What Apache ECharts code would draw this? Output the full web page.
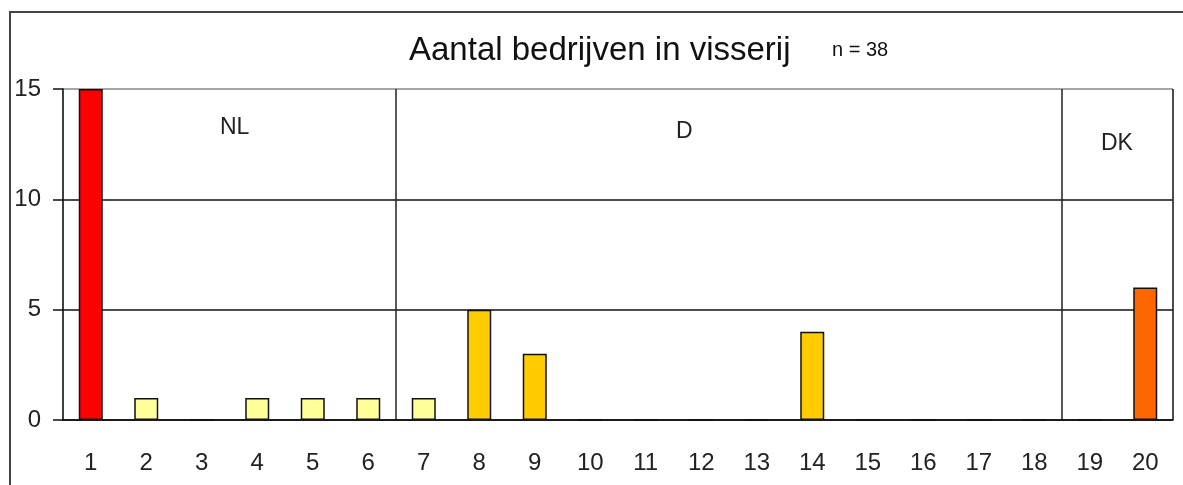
<!DOCTYPE html>
<html>
<head>
<meta charset="utf-8">
<script src="https://cdn.jsdelivr.net/npm/echarts@6/dist/echarts.min.js"></script>
<style>
  html, body { margin: 0; padding: 0; background: #fff; }
  #chart { width: 1183px; height: 485px; }
</style>
</head>
<body>
<div id="chart"></div>
<script>
const categories = ['1', '2', '3', '4', '5', '6', '7', '8', '9', '10', '11', '12', '13', '14', '15', '16', '17', '18', '19', '20']
const aantal = [15, 1, 0, 1, 1, 1, 1, 5, 3, 0, 0, 0, 0, 4, 0, 0, 0, 0, 0, 6]
// size class per category, used only to pick the bar colour
const klasse = [0, 1, 1, 1, 1, 1, 1, 2, 2, 2, 2, 2, 2, 2, 2, 2, 2, 2, 3, 3]
const yTicks = [0, 5, 10, 15]
// region boundaries (index of the first category of each new region)
const grenzen = [6, 18]

const palette = ['#FF0000', '#FFFF99', '#FFCC00', '#FF6600']
const font = '"Liberation Sans", Arial, sans-serif'

const chart = echarts.init(document.getElementById('chart'))
const option = {
  animation: false,
  textStyle: { fontFamily: font },
  title: {
    text: 'Aantal bedrijven in visserij',
    left: 404,
    top: 29,
    textStyle: { fontSize: 33, fontWeight: 'normal', color: '#111', fontFamily: font }
  },
  grid: {
    left: 63,
    right: 10,
    top: 89,
    bottom: 65,
    show: true,
    borderColor: '#999',
    borderWidth: 1
  },
  xAxis: {
    type: 'category',
    data: categories,
    boundaryGap: true,
    axisLine: { lineStyle: { color: '#111', width: 1.5 } },
    axisTick: { length: 8, lineStyle: { color: '#111', width: 1.5 } },
    axisLabel: { fontSize: 24, color: '#222', margin: 31, fontFamily: font },
    splitLine: {
      show: true,
      interval: (index) => grenzen.indexOf(index) >= 0,
      lineStyle: { color: '#222', width: 1.5 }
    }
  },
  yAxis: {
    type: 'value',
    min: yTicks[0],
    max: yTicks[yTicks.length - 1],
    interval: 5,
    axisLine: { show: true, lineStyle: { color: '#111', width: 1.5 } },
    axisTick: { show: true, length: 10, lineStyle: { color: '#111', width: 1.5 } },
    axisLabel: { fontSize: 24, color: '#222', margin: 22, fontFamily: font },
    splitLine: { lineStyle: { color: ['#111', '#111', '#111', '#999'], width: 1.5 } }
  },
  series: [
    {
      type: 'bar',
      data: aantal,
      barWidth: 24,
      itemStyle: {
        color: (p) => palette[klasse[p.dataIndex]],
        borderColor: '#111',
        borderWidth: 1.5
      }
    }
  ],
  graphic: [
    {
      type: 'polyline',
      shape: { points: [[10, 485], [10, 12], [1183, 12]] },
      style: { stroke: '#444', lineWidth: 2, fill: null }
    },
    { type: 'text', left: 832, top: 40, style: { text: 'n = 38', fill: '#111', font: '20px ' + font } },
    { type: 'text', left: 220, top: 116, style: { text: 'NL', fill: '#222', font: '23px ' + font } },
    { type: 'text', left: 676, top: 120, style: { text: 'D', fill: '#222', font: '23px ' + font } },
    { type: 'text', left: 1101, top: 132, style: { text: 'DK', fill: '#222', font: '23px ' + font } }
  ]
}
chart.setOption(option)
</script>
</body>
</html>
